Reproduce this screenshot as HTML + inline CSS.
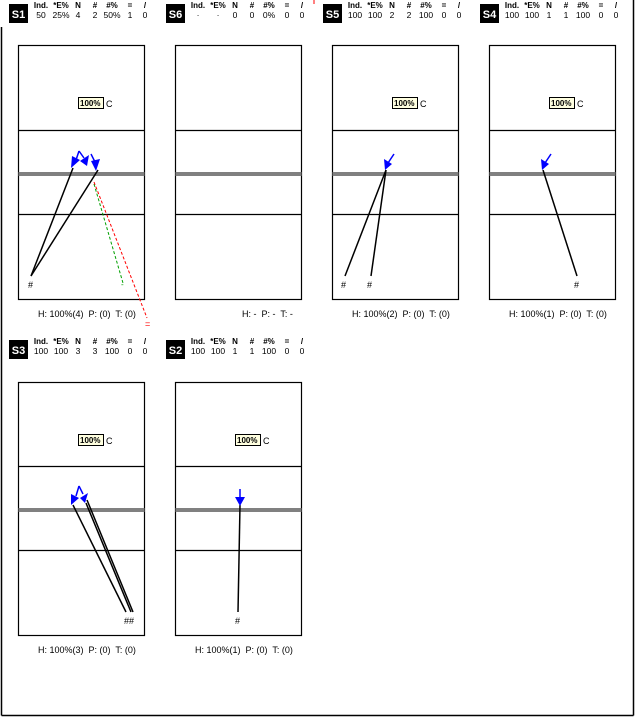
<!DOCTYPE html>
<html><head><meta charset="utf-8"><style>
html,body{margin:0;padding:0;background:#fff;}
svg{display:block;font-family:"Liberation Sans",Arial,sans-serif;}
.h{font-size:8px;font-weight:bold;text-anchor:middle;}
.v{font-size:8.5px;text-anchor:middle;}
.b{font-size:11px;font-weight:bold;fill:#fff;text-anchor:middle;}
.f{font-size:9px;}
.p{font-size:8px;font-weight:bold;}
.c{stroke:#000;stroke-width:1.2;fill:none;}
.g{stroke:#808080;stroke-width:4;}
.k{stroke:#000;stroke-width:1.5;}
.a{fill:#0000ff;stroke:none;}
.al{stroke:#0000ff;stroke-width:1.5;}
</style></head><body>
<svg width="637" height="718" viewBox="0 0 637 718" xmlns="http://www.w3.org/2000/svg">
<rect x="0" y="0" width="637" height="718" fill="#fff"/>
<!-- frame -->
<line x1="1.5" y1="27" x2="1.5" y2="715.5" stroke="#000" stroke-width="1.5"/>
<line x1="633.5" y1="0" x2="633.5" y2="715.5" stroke="#000" stroke-width="1.5"/>
<line x1="1.5" y1="715.5" x2="633.5" y2="715.5" stroke="#000" stroke-width="1.5"/>
<line x1="314" y1="0" x2="314" y2="4" stroke="#f00" stroke-width="1"/>

<!-- headers row 1 -->
<g>
<rect x="9" y="4" width="19" height="19" fill="#000"/><text class="b" x="18.5" y="18">S1</text>
<g transform="translate(9,0)">
<text class="h" x="32" y="8">Ind.</text><text class="h" x="52" y="8">*E%</text><text class="h" x="69" y="8">N</text><text class="h" x="86" y="8">#</text><text class="h" x="103" y="8">#%</text><text class="h" x="121" y="8">=</text><text class="h" x="136" y="8">/</text>
<text class="v" x="32" y="18">50</text><text class="v" x="52" y="18">25%</text><text class="v" x="69" y="18">4</text><text class="v" x="86" y="18">2</text><text class="v" x="103" y="18">50%</text><text class="v" x="121" y="18">1</text><text class="v" x="136" y="18">0</text>
</g>
<rect x="166" y="4" width="19" height="19" fill="#000"/><text class="b" x="175.5" y="18">S6</text>
<g transform="translate(166,0)">
<text class="h" x="32" y="8">Ind.</text><text class="h" x="52" y="8">*E%</text><text class="h" x="69" y="8">N</text><text class="h" x="86" y="8">#</text><text class="h" x="103" y="8">#%</text><text class="h" x="121" y="8">=</text><text class="h" x="136" y="8">/</text>
<text class="v" x="32" y="18">·</text><text class="v" x="52" y="18">·</text><text class="v" x="69" y="18">0</text><text class="v" x="86" y="18">0</text><text class="v" x="103" y="18">0%</text><text class="v" x="121" y="18">0</text><text class="v" x="136" y="18">0</text>
</g>
<rect x="323" y="4" width="19" height="19" fill="#000"/><text class="b" x="332.5" y="18">S5</text>
<g transform="translate(323,0)">
<text class="h" x="32" y="8">Ind.</text><text class="h" x="52" y="8">*E%</text><text class="h" x="69" y="8">N</text><text class="h" x="86" y="8">#</text><text class="h" x="103" y="8">#%</text><text class="h" x="121" y="8">=</text><text class="h" x="136" y="8">/</text>
<text class="v" x="32" y="18">100</text><text class="v" x="52" y="18">100</text><text class="v" x="69" y="18">2</text><text class="v" x="86" y="18">2</text><text class="v" x="103" y="18">100</text><text class="v" x="121" y="18">0</text><text class="v" x="136" y="18">0</text>
</g>
<rect x="480" y="4" width="19" height="19" fill="#000"/><text class="b" x="489.5" y="18">S4</text>
<g transform="translate(480,0)">
<text class="h" x="32" y="8">Ind.</text><text class="h" x="52" y="8">*E%</text><text class="h" x="69" y="8">N</text><text class="h" x="86" y="8">#</text><text class="h" x="103" y="8">#%</text><text class="h" x="121" y="8">=</text><text class="h" x="136" y="8">/</text>
<text class="v" x="32" y="18">100</text><text class="v" x="52" y="18">100</text><text class="v" x="69" y="18">1</text><text class="v" x="86" y="18">1</text><text class="v" x="103" y="18">100</text><text class="v" x="121" y="18">0</text><text class="v" x="136" y="18">0</text>
</g>
</g>

<!-- headers row 2 -->
<rect x="9" y="340" width="19" height="19" fill="#000"/><text class="b" x="18.5" y="354">S3</text>
<g transform="translate(9,336)">
<text class="h" x="32" y="8">Ind.</text><text class="h" x="52" y="8">*E%</text><text class="h" x="69" y="8">N</text><text class="h" x="86" y="8">#</text><text class="h" x="103" y="8">#%</text><text class="h" x="121" y="8">=</text><text class="h" x="136" y="8">/</text>
<text class="v" x="32" y="18">100</text><text class="v" x="52" y="18">100</text><text class="v" x="69" y="18">3</text><text class="v" x="86" y="18">3</text><text class="v" x="103" y="18">100</text><text class="v" x="121" y="18">0</text><text class="v" x="136" y="18">0</text>
</g>
<rect x="166" y="340" width="19" height="19" fill="#000"/><text class="b" x="175.5" y="354">S2</text>
<g transform="translate(166,336)">
<text class="h" x="32" y="8">Ind.</text><text class="h" x="52" y="8">*E%</text><text class="h" x="69" y="8">N</text><text class="h" x="86" y="8">#</text><text class="h" x="103" y="8">#%</text><text class="h" x="121" y="8">=</text><text class="h" x="136" y="8">/</text>
<text class="v" x="32" y="18">100</text><text class="v" x="52" y="18">100</text><text class="v" x="69" y="18">1</text><text class="v" x="86" y="18">1</text><text class="v" x="103" y="18">100</text><text class="v" x="121" y="18">0</text><text class="v" x="136" y="18">0</text>
</g>

<!-- courts row 1 -->
<g>
<rect class="c" x="18.5" y="45.5" width="126" height="254"/>
<line class="c" x1="18.5" y1="130.5" x2="144.5" y2="130.5"/><line class="g" x1="18.5" y1="174" x2="144.5" y2="174"/><line class="c" x1="18.5" y1="214.5" x2="144.5" y2="214.5"/>
<rect class="c" x="175.5" y="45.5" width="126" height="254"/>
<line class="c" x1="175.5" y1="130.5" x2="301.5" y2="130.5"/><line class="g" x1="175.5" y1="174" x2="301.5" y2="174"/><line class="c" x1="175.5" y1="214.5" x2="301.5" y2="214.5"/>
<rect class="c" x="332.5" y="45.5" width="126" height="254"/>
<line class="c" x1="332.5" y1="130.5" x2="458.5" y2="130.5"/><line class="g" x1="332.5" y1="174" x2="458.5" y2="174"/><line class="c" x1="332.5" y1="214.5" x2="458.5" y2="214.5"/>
<rect class="c" x="489.5" y="45.5" width="126" height="254"/>
<line class="c" x1="489.5" y1="130.5" x2="615.5" y2="130.5"/><line class="g" x1="489.5" y1="174" x2="615.5" y2="174"/><line class="c" x1="489.5" y1="214.5" x2="615.5" y2="214.5"/>
</g>
<!-- courts row 2 -->
<g>
<rect class="c" x="18.5" y="382.5" width="126" height="253"/>
<line class="c" x1="18.5" y1="466.5" x2="144.5" y2="466.5"/><line class="g" x1="18.5" y1="510" x2="144.5" y2="510"/><line class="c" x1="18.5" y1="550.5" x2="144.5" y2="550.5"/>
<rect class="c" x="175.5" y="382.5" width="126" height="253"/>
<line class="c" x1="175.5" y1="466.5" x2="301.5" y2="466.5"/><line class="g" x1="175.5" y1="510" x2="301.5" y2="510"/><line class="c" x1="175.5" y1="550.5" x2="301.5" y2="550.5"/>
</g>

<!-- 100% C labels -->
<g>
<rect x="78.5" y="97.5" width="25" height="11" fill="#ffffe0" stroke="#000"/><text class="p" x="80" y="106">100%</text><text class="f" x="106" y="107">C</text>
<rect x="392.5" y="97.5" width="25" height="11" fill="#ffffe0" stroke="#000"/><text class="p" x="394" y="106">100%</text><text class="f" x="420" y="107">C</text>
<rect x="549.5" y="97.5" width="25" height="11" fill="#ffffe0" stroke="#000"/><text class="p" x="551" y="106">100%</text><text class="f" x="577" y="107">C</text>
<rect x="78.5" y="434.5" width="25" height="11" fill="#ffffe0" stroke="#000"/><text class="p" x="80" y="443">100%</text><text class="f" x="106" y="444">C</text>
<rect x="235.5" y="434.5" width="25" height="11" fill="#ffffe0" stroke="#000"/><text class="p" x="237" y="443">100%</text><text class="f" x="263" y="444">C</text>
</g>

<!-- S1 -->
<line x1="94" y1="184" x2="123" y2="283" stroke="#00a000" stroke-width="1" stroke-dasharray="3,2"/>
<line x1="94" y1="182" x2="147" y2="318" stroke="#ff0000" stroke-width="1" stroke-dasharray="3,2"/>
<text x="145" y="327" font-size="9" fill="#f00">=</text>
<text x="121" y="287" font-size="8" fill="#00a000">-</text>
<line class="k" x1="31" y1="276" x2="73" y2="168"/>
<line class="k" x1="31" y1="276" x2="98" y2="170"/>
<text class="f" x="28" y="288">#</text>
<line class="al" x1="79" y1="151" x2="76" y2="160"/><line class="al" x1="79" y1="151" x2="84" y2="158"/>
<polygon class="a" points="71,168 72,156 80,160"/>
<polygon class="a" points="80,161 89,155 87,166"/>
<line class="al" x1="91" y1="154" x2="95" y2="162"/>
<polygon class="a" points="96,171 91,161 100,159"/>

<!-- S6 -->
<text class="f" x="242" y="317">H: -&#160; P: -&#160; T: -</text>

<!-- S5 -->
<line class="k" x1="345" y1="276" x2="386" y2="170"/>
<line class="k" x1="371" y1="276" x2="386" y2="170"/>
<text class="f" x="341" y="288">#</text><text class="f" x="367" y="288">#</text>
<line class="al" x1="394" y1="154" x2="388" y2="163"/>
<polygon class="a" points="385,170 384,159 392,164"/>

<!-- S4 -->
<line class="k" x1="577" y1="276" x2="543" y2="170"/>
<text class="f" x="574" y="288">#</text>
<line class="al" x1="551" y1="154" x2="545" y2="163"/>
<polygon class="a" points="542,170 541,159 549,164"/>

<!-- S3 -->
<line class="k" x1="126" y1="612" x2="73" y2="505"/>
<line class="k" x1="131" y1="612" x2="86" y2="503"/>
<line class="k" x1="133" y1="612" x2="87" y2="500"/>
<text class="f" x="124" y="624">##</text>
<line class="al" x1="79" y1="486" x2="76" y2="496"/><line class="al" x1="79" y1="486" x2="83" y2="494"/>
<polygon class="a" points="71,505 71,494 79,498"/>
<polygon class="a" points="80,498 88,493 85,503"/>

<!-- S2 -->
<line class="k" x1="238" y1="612" x2="240" y2="505"/>
<text class="f" x="235" y="624">#</text>
<line class="al" x1="240" y1="489" x2="240" y2="497"/>
<polygon class="a" points="235,497 245,497 240,506"/>

<!-- footers -->
<text class="f" x="38" y="317">H: 100%(4)&#160; P: (0)&#160; T: (0)</text>
<text class="f" x="352" y="317">H: 100%(2)&#160; P: (0)&#160; T: (0)</text>
<text class="f" x="509" y="317">H: 100%(1)&#160; P: (0)&#160; T: (0)</text>
<text class="f" x="38" y="653">H: 100%(3)&#160; P: (0)&#160; T: (0)</text>
<text class="f" x="195" y="653">H: 100%(1)&#160; P: (0)&#160; T: (0)</text>
</svg>
</body></html>
